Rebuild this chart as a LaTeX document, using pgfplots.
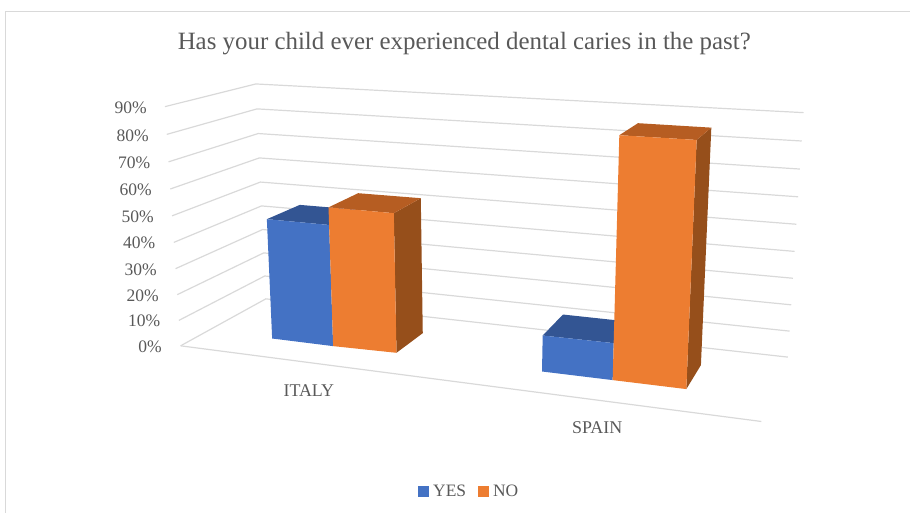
\documentclass[border=0pt]{standalone}
\usepackage{pgfplots}
\pgfplotsset{compat=1.18}
\usepackage{fontspec}
\setmainfont{Liberation Serif}
\definecolor{txt}{HTML}{595959}
\definecolor{gridc}{HTML}{D9D9D9}
\definecolor{frame}{HTML}{D9D9D9}
\definecolor{yesF}{HTML}{4472C4}
\definecolor{yesT}{HTML}{335593}
\definecolor{noF}{HTML}{ED7D31}
\definecolor{noT}{HTML}{B65D22}
\definecolor{noS}{HTML}{964F1B}
% One bar face: every vertex is a vertical edge (base point x0,y0 and its 90% point x9,y9)
% and z is the percentage at which that edge is cut.
\newcommand{\face}[2]{\addplot[fill=#1,draw=none,mark=none,forget plot] table[row sep=\\,
  x expr={\thisrow{x0}+(\thisrow{x9}-\thisrow{x0})*tt(\thisrow{z})},
  y expr={\thisrow{y0}+(\thisrow{y9}-\thisrow{y0})*tt(\thisrow{z})}]
  {x0 y0 x9 y9 z\\ #2};}
% One label of the percentage scale
\newcommand{\pct}[3]{\node[txt, anchor=east, inner sep=0pt, font=\fontsize{17.6}{20}\selectfont] at (axis cs:#2,#3) {#1\%};}
\begin{document}
\begin{tikzpicture}
\begin{axis}[
  scale only axis, width=910bp, height=513bp,
  xmin=0, xmax=910, ymin=0, ymax=513, y dir=reverse,
  axis lines=none, clip=false,
  declare function={tt(\z)=(\z/90)/(1+0.05*(1-\z/90));},
  legend style={draw=none, fill=none, at={(axis cs:469.5,492)}, anchor=center,
    legend columns=2, font=\fontsize{17.5}{20}\selectfont\color{txt},
    /tikz/every odd column/.style={column sep=2.5bp},
    /tikz/every even column/.style={column sep=10bp}},
  legend image code/.code={\fill[#1] (0bp,-5bp) rectangle (10.5bp,5.5bp);},
]
% full page extent
\path (axis cs:0,0) rectangle (axis cs:910,513);
% chart frame
\addplot[frame, line width=1bp, mark=none, forget plot] coordinates {(5.5,513) (5.5,11.5) (910,11.5)};

% wall grid lines at each 10% level
\pgfplotsinvokeforeach{0,10,...,90}{
  \addplot[gridc, line width=1.2bp, mark=none, forget plot] table[row sep=\\,
    x expr={\thisrow{x0}+(\thisrow{x9}-\thisrow{x0})*tt(#1)},
    y expr={\thisrow{y0}+(\thisrow{y9}-\thisrow{y0})*tt(#1)}]
    {x0 y0 x9 y9\\ 180.7 346 165 106.7\\ 266 299 256 84\\ 788.3 357.3 804 112.7\\};
}
% front edge of the floor
\addplot[gridc, line width=1.2bp, mark=none, forget plot] coordinates {(180.7,346) (761.7,421.7)};

% ITALY, YES = 46.5
\face{yesT}{272.3 338.7 261.8 102 46.5\\ 333.3 346.3 325.4 106 46.5\\ 360.3 326.3 359.7 95.8 46.5\\ 302.3 319 297.7 93 46.5\\}
\face{yesF}{272.3 338.7 261.8 102 0\\ 333.3 346.3 325.4 106 0\\ 333.3 346.3 325.4 106 46.5\\ 272.3 338.7 261.8 102 46.5\\}
% ITALY, NO = 53.5
\face{noS}{396.7 353 392.1 113.2 0\\ 423 333.3 419.6 101.6 0\\ 423 333.3 419.6 101.6 53.5\\ 396.7 353 392.1 113.2 53.5\\}
\face{noT}{333.3 346.3 325.4 108 53.5\\ 396.7 353 392.1 113.2 53.5\\ 423 333.3 419.6 101.6 53.5\\ 361 326.6 356.4 97.8 53.5\\}
\face{noF}{333.3 346.3 325.4 108 0\\ 396.7 353 392.1 113.2 0\\ 396.7 353 392.1 113.2 53.5\\ 333.3 346.3 325.4 108 53.5\\}

% SPAIN, YES = 13
\face{yesT}{542.3 371.7 547.3 111.7 13\\ 613 380.3 620 113.3 13\\ 633 356.3 640 110.8 13\\ 562.3 347.7 569.5 109.4 13\\}
\face{yesF}{542.3 371.7 547.3 111.7 0\\ 613 380.3 620 113.3 0\\ 613 380.3 620 113.3 13\\ 542.3 371.7 547.3 111.7 13\\}
% SPAIN, NO = 87
\face{noS}{686.7 389.3 697.4 131 0\\ 701.3 365.3 712.1 119.1 0\\ 701.3 365.3 712.1 119.1 87\\ 686.7 389.3 697.4 131 87\\}
\face{noT}{613 380.3 619.9 126.4 87\\ 686.7 389.3 697.4 131 87\\ 701.3 365.3 712.1 119.1 87\\ 627.6 356.3 638.7 114.8 87\\}
\face{noF}{613 380.3 619.9 126.4 0\\ 686.7 389.3 697.4 131 0\\ 686.7 389.3 697.4 131 87\\ 613 380.3 619.9 126.4 87\\}

\addlegendimage{fill=yesF, draw=none}
\addlegendentry{YES}
\addlegendimage{fill=noF, draw=none}
\addlegendentry{NO}

% title, category names and the percentage scale
\node[txt, font=\fontsize{25}{28}\selectfont] at (axis cs:464.5,43.5) {Has your child ever experienced dental caries in the past?};
\node[txt, font=\fontsize{18}{20}\selectfont] at (axis cs:309,391) {ITALY};
\node[txt, font=\fontsize{18}{20}\selectfont] at (axis cs:597.5,428) {SPAIN};
\pct{90}{147}{108}
\pct{80}{149}{135.5}
\pct{70}{150.5}{162.5}
\pct{60}{152}{189.5}
\pct{50}{154}{216.5}
\pct{40}{155.5}{243}
\pct{30}{157}{269.5}
\pct{20}{159}{295.5}
\pct{10}{160.5}{321}
\pct{0}{162}{347}
\end{axis}
\end{tikzpicture}
\end{document}
